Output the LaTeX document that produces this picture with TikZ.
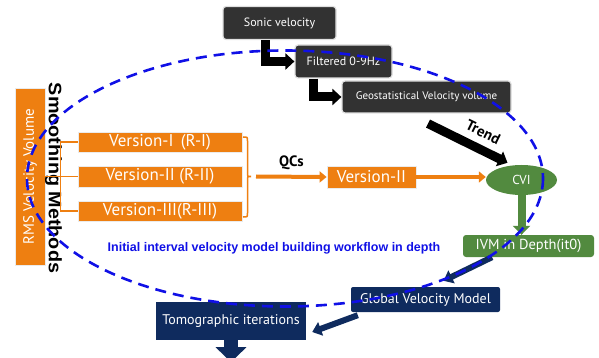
\documentclass[tikz,border=0pt]{standalone}
\usepackage{fontspec}
\setmainfont{PT Sans}
\newfontfamily\arialfont{Liberation Sans}
\newfontfamily\smoothfont{Liberation Sans}[FakeStretch=1.1]
\usetikzlibrary{arrows.meta,shapes.geometric}
\definecolor{boxorange}{HTML}{EE7F11}
\definecolor{boxdark}{HTML}{323232}
\definecolor{boxnavy}{HTML}{0F2B5E}
\definecolor{boxgreen}{HTML}{528A3F}
\definecolor{loopblue}{HTML}{1010E6}
\begin{document}
\begin{tikzpicture}[x=1pt,y=-1pt,
  darkbox/.style={draw=black!12, line width=1.2pt, fill=boxdark, rounded corners=3pt,
    text=white, inner sep=0pt, font=\fontsize{12}{14}\selectfont},
  orangebox/.style={draw=black!8, line width=0.8pt, fill=boxorange, text=white,
    inner sep=0pt, font=\fontsize{17}{19}\selectfont},
  greenbox/.style={fill=boxgreen, rounded corners=3pt, text=white, inner sep=0pt,
    font=\fontsize{14.5}{16}\selectfont},
  navybox/.style={fill=boxnavy, text=white, inner sep=0pt,
    font=\fontsize{14}{16}\selectfont},
  blackarrow/.style={draw=black, line width=9pt, line join=miter,
    -{Triangle[width=16pt,length=9pt]}},
  orangearrow/.style={draw=boxorange, line width=4pt, -{Triangle[width=11pt,length=7pt]}},
  greenarrow/.style={draw=boxgreen, line width=8pt, -{Triangle[width=17pt,length=9pt]}},
  navyarrow/.style={draw=boxnavy, line width=6pt, -{Triangle[width=14pt,length=9pt]}},
  bracketline/.style={draw=boxorange, line width=1.5pt},
  arrowlabel/.style={inner sep=0pt, font=\bfseries\fontsize{15}{17}\selectfont},
]
\useasboundingbox (0,0) rectangle (599,358);

% velocity inputs
\node[darkbox, minimum width=113pt, minimum height=33pt] (sonic) at (279.5,23) {Sonic velocity};
\node[darkbox, minimum width=97pt, minimum height=33pt] (filt) at (343.5,61.5) {Filtered 0-9Hz};
\node[darkbox, minimum width=169pt, minimum height=32pt, font=\fontsize{11}{13}\selectfont] (geo) at (426.5,97) {Geostatistical Velocity volume};

% RMS volume and smoothing versions
\node[orangebox, minimum width=177pt, minimum height=30pt, rotate=90, font=\fontsize{15}{17}\selectfont] (rms) at (30,176.5) {RMS Velocity Volume};
\node[rotate=-90, inner sep=0pt, font=\smoothfont\bfseries\fontsize{18}{20}\selectfont] (smooth) at (53.5,178) {Smoothing Methods};
\node[orangebox, minimum width=164pt, minimum height=20pt] (v1) at (160,142) {Version-I\, (R-I)};
\node[orangebox, minimum width=164pt, minimum height=21pt] (v2) at (160,176.5) {Version-II (R-II)};
\node[orangebox, minimum width=164pt, minimum height=20pt] (v3) at (160,211) {Version-III(R-III)};
\node[orangebox, minimum width=89pt, minimum height=22pt] (v2b) at (371.5,177) {Version-II};

% depth model chain
\node[ellipse, fill=boxgreen, text=white, minimum width=71pt, minimum height=30pt, inner sep=0pt,
  font=\fontsize{13}{15}\selectfont] (cvi) at (521.5,180) {CVI};
\node[greenbox, minimum width=131pt, minimum height=22pt] (ivm) at (528.5,246) {IVM in Depth(it0)};
\node[navybox, rounded corners=2pt, minimum width=149pt, minimum height=25pt] (global) at (425.5,299.5) {Global Velocity Model};
\node[navybox, minimum width=150pt, minimum height=38pt] (tomo) at (231,321) {Tomographic iterations};
\coordinate (tomoout) at ([yshift=-22pt]tomo.south);

\node[text=loopblue, inner sep=0pt, font=\arialfont\bfseries\fontsize{12.5}{14}\selectfont] (caption) at (274,248)
  {Initial interval velocity model building workflow in depth};

% brackets
\draw[bracketline] (rms.south) -- (v2.west);
\draw[bracketline] (v1.west) -- ++(-17,0) |- (v3.west);
\draw[bracketline] (243,137) .. controls (247.5,137) .. (247.5,141) -- (247.5,173)
  .. controls (247.5,176.5) .. (251,176.5) .. controls (247.5,176.5) .. (247.5,180)
  -- (247.5,213) .. controls (247.5,217) .. (243,217);
\coordinate (qcs) at (256,176.5);

% connectors
\draw[blackarrow] ([xshift=-14pt]sonic.south) |- (filt.west);
\draw[blackarrow] ([xshift=-30pt]filt.south) |- (geo.west);
\draw[blackarrow] ([xshift=1.5pt,yshift=-10pt]geo.south) -- ([xshift=-14pt,yshift=2pt]cvi.north)
  node[pos=0.6, sloped, above=7pt, arrowlabel] {Trend};
\draw[orangearrow] (qcs) -- (v2b.west)
  node[midway, above=5pt, arrowlabel] {QCs};
\draw[orangearrow] (v2b.east) -- (v2b.east -| cvi.west);
\draw[greenarrow] (cvi.south) -- (cvi.south |- ivm.north);
\draw[navyarrow] ([xshift=-36.5pt]ivm.south) -- ([xshift=18pt,yshift=6pt]global.north);
\draw[navyarrow] ([xshift=7pt,yshift=-3pt]global.south west) -- ([xshift=6pt,yshift=-11pt]tomo.east);
\draw[draw=boxnavy, line width=14pt, -{Triangle[width=30pt,length=15pt]}] (tomo.south) -- (tomoout);

% workflow loop
\draw[loopblue, line width=2.6pt, dash pattern=on 11pt off 7pt] (285,178.5) ellipse [x radius=258, y radius=128];
\end{tikzpicture}
\end{document}
